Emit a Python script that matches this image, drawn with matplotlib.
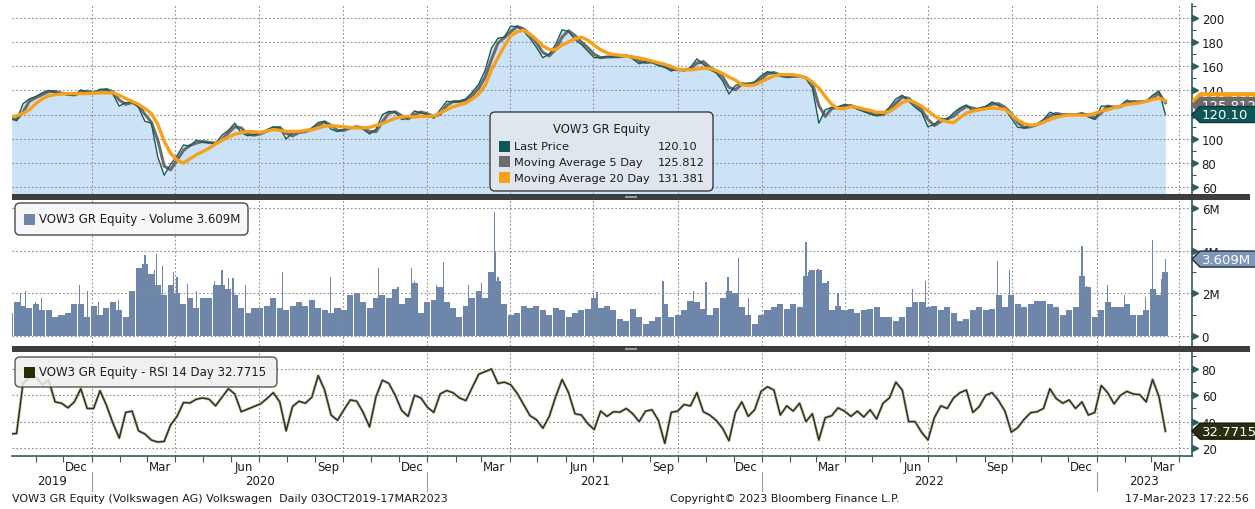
import numpy as np
import pandas as pd
import matplotlib
matplotlib.use("Agg")
import matplotlib.pyplot as plt
import matplotlib.dates as mdates
import matplotlib.patheffects as pe
from matplotlib.patches import Rectangle, FancyBboxPatch, Polygon
from matplotlib.transforms import IdentityTransform

# weekly (Friday) values, 04-Oct-2019 .. 17-Mar-2023
week_start, week_end = "2019-10-04", "2023-03-17"

last_price = [
    117, 115, 129, 133, 135, 138, 140, 138.5, 137, 136.5,
    136, 140.5, 138.4, 138, 141, 140.7, 137, 127, 130, 130,
    126, 114.5, 113, 85, 70, 79, 86, 95, 94, 99,
    97, 97, 96, 103, 107, 113, 105, 102.6, 103.5, 105,
    107.6, 110, 109, 100, 105, 105.5, 106.5, 109, 113.5, 114.5,
    108, 106, 108, 110, 110, 108, 104, 108, 120, 122.7,
    122, 116, 117, 123, 121.4, 120, 117, 124, 131, 130.5,
    131, 133, 138.5, 145, 156.5, 175, 183, 184, 193, 192.5,
    189, 183, 175.5, 167, 170, 178, 190, 188.5, 182, 178,
    172.5, 167, 167, 168, 167.5, 168, 169, 166, 162, 164,
    163, 160.5, 159, 156, 158, 156, 159, 166, 161.5, 157,
    154.5, 148, 137, 144, 146, 145, 147, 152, 155.5, 154,
    151.5, 151, 152, 151.5, 149.5, 142, 113, 124, 126, 126,
    128.5, 126.5, 124.5, 122.5, 120.5, 119, 121, 126, 133, 136,
    131, 126, 122, 110, 112, 117, 116, 121.5, 125.5, 128,
    122.7, 125.5, 126.8, 130.5, 127.5, 124.5, 117, 109.5, 109, 111,
    112.5, 116, 122, 120, 120, 120, 120, 121.4, 118, 116,
    127, 127, 125.5, 127.5, 132, 129.7, 131, 131, 136, 139.5,
    120.1,
]

ma20 = [
    118, 119, 121, 124, 129, 133, 135.5, 136.5, 137, 137.4,
    137.4, 137.4, 137.4, 137.7, 138, 138, 138, 136, 133.3, 131,
    128.5, 125, 121, 112, 98, 88, 82.5, 80, 83.5, 86.8,
    89.5, 92.3, 95.7, 98.8, 101.5, 103.8, 105, 106.2, 105.8, 105.4,
    106.5, 107.6, 107, 106.2, 106.2, 106.2, 107, 107.5, 109, 110.5,
    110.8, 110.5, 110, 109.3, 109, 109, 109.5, 111, 112.5, 115,
    117, 118, 118.6, 118, 118.6, 118.6, 118.8, 121.5, 124, 126.5,
    128, 129.5, 133, 137, 144, 157, 167, 176.5, 185, 188.5,
    189.6, 186.5, 182, 176.7, 173.8, 173.5, 177.5, 180, 182.5, 184,
    181.5, 177.3, 173.5, 171, 169.6, 169, 168.2, 167.5, 166.8, 165.5,
    164.2, 162.8, 161.5, 159.7, 157.5, 157, 157, 157.5, 158.3, 158,
    156.5, 154, 151, 148.5, 144.5, 144, 144.5, 147, 149.5, 152,
    153, 153, 153, 152, 150.3, 147, 142, 135, 128.5, 125,
    125, 126.5, 126, 124.6, 123.5, 122, 121.8, 122.5, 126, 130,
    132, 130, 127, 123, 119, 115.7, 114.2, 113.3, 117.5, 121.4,
    122.8, 124, 124.8, 125.5, 125, 124.3, 120, 115.5, 112.5, 111.2,
    111.8, 113.8, 116, 117.8, 119, 119.7, 119.8, 119.5, 119.5, 121,
    123, 124, 125.7, 127, 128.4, 129, 129.7, 131, 132.4, 133.7,
    131.4,
]

# volume in millions
volume_m = [
    1.1, 1.6, 1.4, 1.3, 1.5, 1.2, 1.2, 0.9, 1.0, 1.1,
    1.5, 1.5, 0.9, 1.4, 1.0, 1.3, 1.6, 1.2, 0.9, 2.1,
    3.2, 3.4, 2.9, 2.4, 1.9, 2.4, 2.0, 1.5, 1.8, 1.3,
    1.8, 1.8, 2.4, 2.4, 2.2, 1.9, 1.3, 1.1, 1.3, 1.3,
    1.4, 1.8, 1.3, 1.2, 1.4, 1.6, 1.4, 1.7, 1.3, 1.2,
    1.1, 1.3, 1.2, 1.9, 2.0, 1.6, 1.3, 1.8, 1.9, 1.8,
    2.2, 1.5, 1.8, 2.5, 1.1, 1.6, 1.7, 2.3, 1.6, 1.3,
    0.9, 1.4, 1.8, 2.1, 1.8, 3.0, 2.6, 1.5, 1.0, 1.1,
    1.4, 1.3, 1.4, 1.2, 1.0, 1.3, 1.2, 0.9, 1.1, 1.2,
    1.25, 1.8, 1.3, 1.4, 1.2, 0.8, 0.7, 1.25, 0.9, 0.55,
    0.7, 0.9, 1.5, 0.9, 1.0, 1.2, 1.65, 1.6, 1.25, 1.0,
    1.3, 1.8, 2.1, 2.0, 1.35, 1.0, 0.55, 1.0, 1.2, 1.35,
    1.5, 1.25, 1.5, 1.35, 2.8, 3.1, 3.1, 2.5, 1.2, 1.4,
    1.2, 1.25, 1.1, 1.2, 1.25, 1.35, 0.9, 0.9, 0.7, 0.9,
    1.35, 1.6, 1.6, 1.35, 1.4, 1.2, 1.35, 1.1, 0.7, 0.8,
    1.2, 1.35, 1.2, 1.25, 1.9, 1.35, 1.9, 1.5, 1.35, 1.5,
    1.65, 1.65, 1.5, 1.35, 1.0, 1.2, 1.35, 2.8, 2.3, 0.9,
    1.2, 1.6, 1.35, 1.35, 1.5, 1.0, 1.0, 1.2, 2.2, 1.9,
    3.0,
]

rsi14 = [
    30.6, 31, 69, 73.5, 74, 68, 71.5, 55, 54, 50.5,
    55, 65, 50, 50, 63.5, 52.5, 39, 27.5, 47, 48,
    33, 30.6, 26, 24.5, 25, 37.5, 44, 54.5, 54.2, 57,
    58, 57, 52, 58.5, 65, 61, 47.5, 49.5, 51.5, 53.5,
    57.5, 62, 55, 33, 51.5, 55.5, 54, 58.5, 75, 64,
    45, 41, 49, 56.5, 55.5, 47, 36, 59, 71.5, 69,
    60, 48.5, 44, 60, 58, 51, 47, 61, 63.6, 62,
    58, 56, 66, 76, 78, 80, 69, 70, 68, 61.5,
    53, 44.5, 41.5, 35, 44, 59, 72, 62, 46, 45,
    38.5, 34, 48, 44, 47.5, 47.2, 50, 46, 40, 48,
    49, 41, 23.5, 47, 48, 53, 52, 62, 47.5, 45,
    41, 35, 25.5, 47, 55, 44, 49, 63, 66.5, 64,
    45, 52, 48, 54, 40, 46, 26, 43, 44.5, 50.5,
    48, 44, 48, 43.5, 49, 42, 54, 58, 70, 64,
    40, 40, 32, 26, 43, 52, 50, 58, 62, 64,
    47, 51.5, 60, 62, 56, 48, 32, 35.5, 41.8, 46.8,
    47.5, 50, 65, 57.5, 54, 56.5, 50, 55, 45, 47,
    67.5, 62, 53.5, 60, 63, 61, 60.5, 55, 72, 59,
    32.77,
]

# single heavy-volume days (millions)
spike_dates = [
    "2019-10-15", "2019-10-21", "2019-11-01", "2019-11-07", "2019-12-19",
    "2019-12-27", "2020-01-08", "2020-01-30", "2020-02-24", "2020-02-28",
    "2020-03-09", "2020-03-12", "2020-03-18", "2020-03-30", "2020-04-03",
    "2020-04-14", "2020-04-24", "2020-05-14", "2020-05-22", "2020-05-29",
    "2020-06-03", "2020-06-17", "2020-07-27", "2020-09-17", "2020-11-09",
    "2020-11-30", "2020-12-15", "2020-12-18", "2021-01-11", "2021-01-19",
    "2021-02-15", "2021-03-01", "2021-03-15", "2021-03-16", "2021-03-19",
    "2021-07-01", "2021-07-05", "2021-09-15", "2021-10-18", "2021-11-01",
    "2021-11-25", "2021-12-06", "2021-12-17", "2022-02-18", "2022-02-21",
    "2022-03-03", "2022-03-04", "2022-03-14", "2022-03-25", "2022-06-14",
    "2022-06-28", "2022-09-15", "2022-09-28", "2022-12-16", "2022-12-19",
    "2022-12-21", "2023-01-13", "2023-01-31", "2023-02-23", "2023-03-03",
    "2023-03-13", "2023-03-17",
]
spike_vol_m = [
    2.0, 2.1, 1.6, 1.8, 2.4,
    2.1, 1.6, 1.7, 2.2, 3.8,
    3.1, 3.85, 3.3, 3.0, 2.75,
    2.45, 2.1, 2.6, 3.1, 2.7,
    2.7, 2.4, 3.0, 2.75, 3.2,
    2.3, 3.2, 2.6, 2.4, 3.45,
    2.4, 2.5, 5.8, 4.0, 2.75,
    2.0, 2.05, 2.6, 2.1, 2.55,
    2.75, 3.65, 1.8, 4.4, 3.0,
    3.15, 3.1, 2.6, 2.0, 2.2,
    2.6, 3.5, 3.1, 4.2, 2.7,
    2.35, 2.4, 1.9, 1.85, 4.5,
    2.67, 3.609,
]

price_ticks = [60, 80, 100, 120, 140, 160, 180, 200]
vol_ticks = [0, 2, 4, 6]
vol_tick_labels = ["0", "2M", "4M", "6M"]
rsi_ticks = [20, 40, 60, 80]

FILL = "#cce2f7"
TEAL = "#175a5a"
GRAY = "#6c6c6c"
ORANGE = "#f7a11a"
VOLC = "#6d86a9"
RSIC = "#2e2e14"
SPINE = "#2f5d5d"
GRID = "#8c8c8c"
TXT = "#1c1c1c"

plt.rcParams["font.family"] = ["DejaVu Sans"]

W, H = 1255, 510
fig = plt.figure(figsize=(W / 100, H / 100), dpi=100)


def box(x0, y0, x1, y1):
    return [x0 / W, 1 - y1 / H, (x1 - x0) / W, (y1 - y0) / H]


def ftext(x, y, s, **kw):
    kw.setdefault("va", "center")
    kw.setdefault("color", TXT)
    kw.setdefault("fontsize", 8.5)
    return fig.text(x / W, 1 - y / H, s, **kw)


wk = mdates.date2num(pd.date_range(week_start, week_end, freq="W-FRI").to_pydatetime())
spk = mdates.date2num(pd.to_datetime(spike_dates).to_pydatetime())
ma5 = pd.Series(last_price).rolling(2, min_periods=1).mean().values

x_lo = mdates.date2num(pd.Timestamp("2019-10-06").to_pydatetime())
x_hi = mdates.date2num(pd.Timestamp("2023-04-15").to_pydatetime())
quarters = mdates.date2num(pd.date_range("2020-01-01", "2023-04-01", freq="QS").to_pydatetime())

ax_p = fig.add_axes(box(12, 5, 1192, 195))
ax_v = fig.add_axes(box(12, 201, 1192, 347))
ax_r = fig.add_axes(box(12, 353, 1192, 457))


def style_axis(ax, ylim, ticks, minor, labels=None):
    ax.set_xlim(x_lo, x_hi)
    ax.set_ylim(*ylim)
    ax.xaxis_date()
    for s in ["top", "left", "bottom"]:
        ax.spines[s].set_visible(False)
    ax.spines["right"].set_color(SPINE)
    ax.spines["right"].set_linewidth(1.2)
    ax.yaxis.tick_right()
    ax.set_yticks(ticks)
    if labels:
        ax.set_yticklabels(labels)
    ax.set_yticks(minor, minor=True)
    ax.tick_params(axis="y", which="major", length=0, pad=7, labelsize=8.5, labelcolor=TXT)
    ax.tick_params(axis="y", which="minor", length=3, width=0.8, color=SPINE)
    ax.tick_params(axis="x", which="both", bottom=False, labelbottom=False)
    for t in ticks:
        ax.axhline(t, color=GRID, lw=0.8, ls=(0, (1.5, 2)), zorder=1.5)
    for q in quarters:
        ax.axvline(q, color=GRID, lw=0.8, ls=(0, (1.5, 2)), zorder=1.5)
    ax.plot(np.full(len(ticks), 1.0025), ticks, ls="none", marker=">", ms=4.5,
            color=SPINE, transform=ax.get_yaxis_transform(), clip_on=False, zorder=5)


# --- price panel
style_axis(ax_p, (54.5, 211.3), price_ticks, list(range(70, 211, 20)))
ax_p.fill_between(wk, last_price, 0, color=FILL, lw=0, zorder=1)
ax_p.plot(wk, ma5, color=GRAY, lw=2.2, zorder=3)
ax_p.plot(wk, last_price, color=TEAL, lw=1.0, zorder=4)
ax_p.plot(wk, ma20, color=ORANGE, lw=2.4, zorder=5)

# --- volume panel
style_axis(ax_v, (-0.47, 6.38), vol_ticks, [1, 3, 5], vol_tick_labels)
ax_v.bar(wk, volume_m, width=6.6, color=VOLC, lw=0, zorder=1)
ax_v.bar(spk, spike_vol_m, width=1.3, color=VOLC, lw=0, zorder=1)

# --- RSI panel
style_axis(ax_r, (13.9, 92.9), rsi_ticks, [30, 50, 70, 90])
ax_r.plot(wk, rsi14, color=RSIC, lw=1.0, zorder=4,
          path_effects=[pe.Stroke(linewidth=2.0, foreground="#b4b4a6"), pe.Normal()])
ax_r.spines["bottom"].set_visible(True)
ax_r.spines["bottom"].set_color(SPINE)
ax_r.spines["bottom"].set_linewidth(1.2)
ax_r.xaxis.set_major_locator(mdates.MonthLocator(bymonth=[3, 6, 9, 12], bymonthday=15))
ax_r.xaxis.set_major_formatter(mdates.DateFormatter("%b"))
ax_r.xaxis.set_minor_locator(mdates.MonthLocator())
ax_r.tick_params(axis="x", which="major", bottom=True, labelbottom=True, length=0,
                 pad=3, labelsize=8.5, labelcolor=TXT)
ax_r.tick_params(axis="x", which="minor", bottom=True, length=4, width=0.8, color=SPINE)

# year labels centred in their visible span, with separators at Jan 1
xt = ax_r.get_xaxis_transform()
for yr in range(2019, 2024):
    a = max(mdates.date2num(pd.Timestamp(f"{yr}-01-01").to_pydatetime()), x_lo)
    b = min(mdates.date2num(pd.Timestamp(f"{yr + 1}-01-01").to_pydatetime()), x_hi)
    ax_r.text((a + b) / 2, (457 - 482) / 104, str(yr), transform=xt, ha="center",
              va="center", fontsize=8.5, color=TXT, clip_on=False)
    if yr > 2019:
        jan = mdates.date2num(pd.Timestamp(f"{yr}-01-01").to_pydatetime())
        ax_r.plot([jan, jan], [(457 - 473) / 104, (457 - 492) / 104], transform=xt,
                  color="#a0a0a0", lw=0.8, clip_on=False)

# --- panel separators
for y0 in (195, 347):
    fig.add_artist(Rectangle((12, H - y0 - 6), 1238, 6, transform=IdentityTransform(),
                             fc="#3d3d3d", ec="none", zorder=8))
    fig.add_artist(Rectangle((625, H - y0 - 4), 12, 2, transform=IdentityTransform(),
                             fc="#9a9a9a", ec="none", zorder=8.5))


# --- right-hand value tags
def tag(ax, val, text, fc, tc, dy=0.0, ec=None, z=10):
    x0, yc = ax.get_yaxis_transform().transform((1.0, val))
    yc += dy
    h = 16
    pts = [(x0, yc), (x0 + 8, yc + h / 2), (x0 + 80, yc + h / 2),
           (x0 + 80, yc - h / 2), (x0 + 8, yc - h / 2)]
    fig.add_artist(Polygon(pts, closed=True, transform=IdentityTransform(), fc=fc,
                           ec=ec or fc, lw=1, zorder=z))
    fig.text((x0 + 10) / W, yc / H, text, color=tc, fontsize=9.5, va="center",
             ha="left", zorder=z + 0.5)


tag(ax_p, ma20[-1], "131.381", ORANGE, "white", z=10)
tag(ax_p, 125.812, "125.812", GRAY, "white", dy=2, z=11)
tag(ax_p, last_price[-1], "120.10", "#0f5757", "white", ec="#0a3a3a", z=12)
tag(ax_v, spike_vol_m[-1], "3.609M", "#7f97ba", "white", ec="#1e2a38")
tag(ax_r, rsi14[-1], "32.7715", "#2d2d10", "white", ec="#151505")


# --- legends
def lbox(x0, y0, x1, y1, fc, alpha=1.0):
    fig.add_artist(FancyBboxPatch((x0, H - y1), x1 - x0, y1 - y0,
                                  boxstyle="round,pad=0,rounding_size=5",
                                  transform=IdentityTransform(), fc=fc, ec="#3a3a3a",
                                  lw=1, alpha=alpha, zorder=9))


def square(x0, yc, color, s=11):
    fig.add_artist(Rectangle((x0, H - yc - s / 2), s, s, transform=IdentityTransform(),
                             fc=color, ec="none", zorder=10))


lbox(490, 113, 713, 192, "#dfe6ee")
ftext(602, 130, "VOW3 GR Equity", ha="center", fontsize=8.4, zorder=10)
rows = [("Last Price", "120.10", "#0f5757"),
        ("Moving Average 5 Day", "125.812", GRAY),
        ("Moving Average 20 Day", "131.381", ORANGE)]
for i, (lab, val, col) in enumerate(rows):
    yc = 147 + i * 15.8
    square(499, yc, col)
    ftext(514, yc, lab, fontsize=8.2, zorder=10)
    ftext(658, yc, val, fontsize=8.2, zorder=10)

lbox(15, 204, 248, 236, "#f6f7f9", alpha=0.92)
square(24, 220, VOLC)
ftext(39, 220, "VOW3 GR Equity - Volume 3.609M", fontsize=8.5, zorder=10)

lbox(15, 358, 277, 388, "#efefef", alpha=0.85)
square(24, 373, "#2b2b06")
ftext(39, 373, "VOW3 GR Equity - RSI 14 Day 32.7715", fontsize=8.5, zorder=10)

# --- footer
ftext(12, 499, "VOW3 GR Equity (Volkswagen AG) Volkswagen  Daily 03OCT2019-17MAR2023",
      fontsize=8)
ftext(670, 499, "Copyright\u00a9 2023 Bloomberg Finance L.P.", fontsize=8)
ftext(1249, 499, "17-Mar-2023 17:22:56", ha="right", fontsize=8)

fig.savefig("out.png", dpi=100, facecolor="white")
plt.close(fig)
